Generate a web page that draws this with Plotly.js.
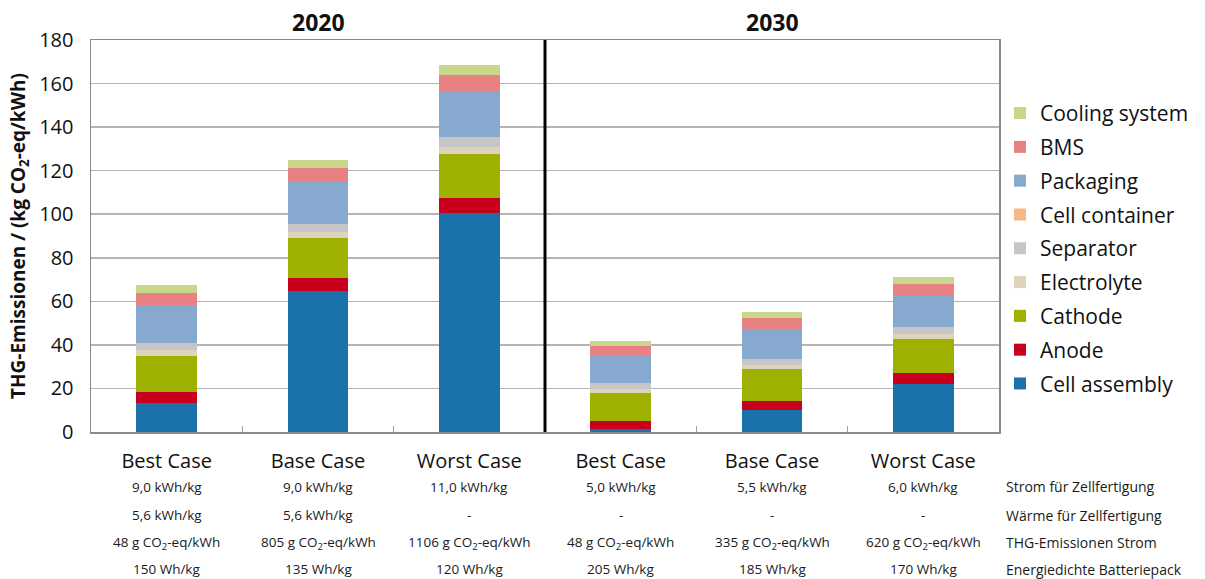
<!DOCTYPE html>
<html>
<head>
<meta charset="utf-8">
<script src="https://cdn.plot.ly/plotly-3.0.1.min.js"></script>
<style>html,body{margin:0;padding:0;background:#fff;}#chart{width:1205px;height:579px;}</style>
</head>
<body>
<div id="chart"></div>
<script>
// Categories (x positions) and labels
const caseIds = ["c1", "c2", "c3", "c4", "c5", "c6"];
const caseLabels = ["Best Case", "Base Case", "Worst Case", "Best Case", "Base Case", "Worst Case"];
const years = ["2020", "2030"];

// Series values (kg CO2-eq/kWh), per case
const cellAssembly  = [13.2, 64.9, 100.7, 1.2, 10.1, 22.0];
const anode         = [5.3, 6.0, 6.6, 3.8, 4.1, 4.9];
const cathode       = [16.4, 18.0, 20.3, 13.0, 14.6, 15.8];
const electrolyte   = [2.7, 2.8, 3.3, 1.6, 2.0, 2.2];
const separator     = [3.1, 3.8, 4.2, 2.8, 2.7, 3.0];
const cellContainer = [0.2, 0.2, 0.2, 0.1, 0.1, 0.1];
const packaging     = [17.2, 19.0, 21.5, 12.5, 13.9, 15.0];
const bms           = [5.8, 6.3, 7.3, 4.6, 4.8, 5.1];
const cooling       = [3.6, 4.1, 4.5, 2.3, 2.9, 3.3];

// Parameter rows under the chart
const rowLabels = ["Strom für Zellfertigung", "Wärme für Zellfertigung", "THG-Emissionen Strom", "Energiedichte Batteriepack"];
const stromZell = ["9,0 kWh/kg", "9,0 kWh/kg", "11,0 kWh/kg", "5,0 kWh/kg", "5,5 kWh/kg", "6,0 kWh/kg"];
const waermeZell = ["5,6 kWh/kg", "5,6 kWh/kg", "-", "-", "-", "-"];
const thgStrom = ["48 g CO<sub>2</sub>-eq/kWh", "805 g CO<sub>2</sub>-eq/kWh", "1106 g CO<sub>2</sub>-eq/kWh", "48 g CO<sub>2</sub>-eq/kWh", "335 g CO<sub>2</sub>-eq/kWh", "620 g CO<sub>2</sub>-eq/kWh"];
const energiedichte = ["150 Wh/kg", "135 Wh/kg", "120 Wh/kg", "205 Wh/kg", "185 Wh/kg", "170 Wh/kg"];

const seriesNames = ["Cell assembly", "Anode", "Cathode", "Electrolyte", "Separator", "Cell container", "Packaging", "BMS", "Cooling system"];
const seriesValues = [cellAssembly, anode, cathode, electrolyte, separator, cellContainer, packaging, bms, cooling];
const seriesColors = ["#1b72aa", "#c8001e", "#9eb000", "#ded3bd", "#c6c6c6", "#f5b888", "#87a9d0", "#e88282", "#c8d78a"];

const FONT = "Open Sans, Noto Sans, sans-serif";

const traces = seriesNames.map((n, i) => ({
  type: "bar",
  name: n,
  x: caseIds,
  y: seriesValues[i],
  marker: { color: seriesColors[i], line: { width: 0 } },
  width: 0.4,
  legendgroup: "g" + i,
  legendrank: 100 - i,
  hoverinfo: "name+y"
}));

const rowY = [-0.140, -0.212, -0.283, -0.350];
const rows = [stromZell, waermeZell, thgStrom, energiedichte];
const annotations = [];
rows.forEach((r, ri) => {
  r.forEach((t, ci) => {
    annotations.push({
      x: caseIds[ci], y: rowY[ri], xref: "x", yref: "paper",
      text: t, showarrow: false, xanchor: "center", yanchor: "middle",
      font: { family: FONT, size: 13.5, color: "#1a1a1a" }
    });
  });
  annotations.push({
    x: 1.006, y: rowY[ri], xref: "paper", yref: "paper",
    text: rowLabels[ri], showarrow: false, xanchor: "left", yanchor: "middle",
    font: { family: FONT, size: 14, color: "#1a1a1a" }
  });
});
years.forEach((yr, i) => {
  annotations.push({
    x: i === 0 ? 0.25 : 0.75, y: 1.0, xref: "paper", yref: "paper",
    yshift: 18, text: "<b>" + yr + "</b>", showarrow: false,
    xanchor: "center", yanchor: "middle",
    font: { family: FONT, size: 23, color: "#111" }
  });
});

const layout = {
  width: 1205, height: 579,
  margin: { l: 91, r: 205, t: 40, b: 147 },
  paper_bgcolor: "#fff", plot_bgcolor: "#fff",
  barmode: "stack",
  bargap: 0.6,
  showlegend: true,
  legend: {
    x: 1.0, y: 0.865, xanchor: "left", yanchor: "top",
    traceorder: "grouped",
    tracegroupgap: 3.5,
    font: { family: FONT, size: 21, color: "#111" },
    bgcolor: "rgba(0,0,0,0)"
  },
  xaxis: {
    type: "category",
    range: [-0.5, 5.5],
    tickvals: caseIds,
    ticktext: caseLabels,
    tickfont: { family: FONT, size: 20, color: "#111" },
    ticklabelstandoff: 10,
    ticks: "inside", tickson: "boundaries", ticklen: 6, tickcolor: "#a0a0a0", tickwidth: 1.5,
    showline: true, linecolor: "#8a8a8a", linewidth: 1.5, mirror: true,
    showgrid: false, zeroline: false,
    fixedrange: true
  },
  yaxis: {
    range: [0, 180], dtick: 20,
    tickfont: { family: FONT, size: 20, color: "#111" },
    ticks: "",
    ticklabelstandoff: 12,
    showline: true, linecolor: "#8a8a8a", linewidth: 1.5, mirror: true,
    showgrid: true, gridcolor: "#b4b4b4", gridwidth: 1.5,
    zeroline: false,
    title: { text: "<b>THG-Emissionen / (kg CO<sub>2</sub>-eq/kWh)</b>", font: { family: FONT, size: 19, color: "#111" }, standoff: 8 }
  },
  shapes: [{
    type: "line", xref: "x", yref: "paper", x0: 2.5, x1: 2.5, y0: 0, y1: 1,
    line: { color: "#000", width: 3 }
  }],
  annotations: annotations
};

Plotly.newPlot("chart", traces, layout, { displayModeBar: false, staticPlot: true });
</script>
</body>
</html>
